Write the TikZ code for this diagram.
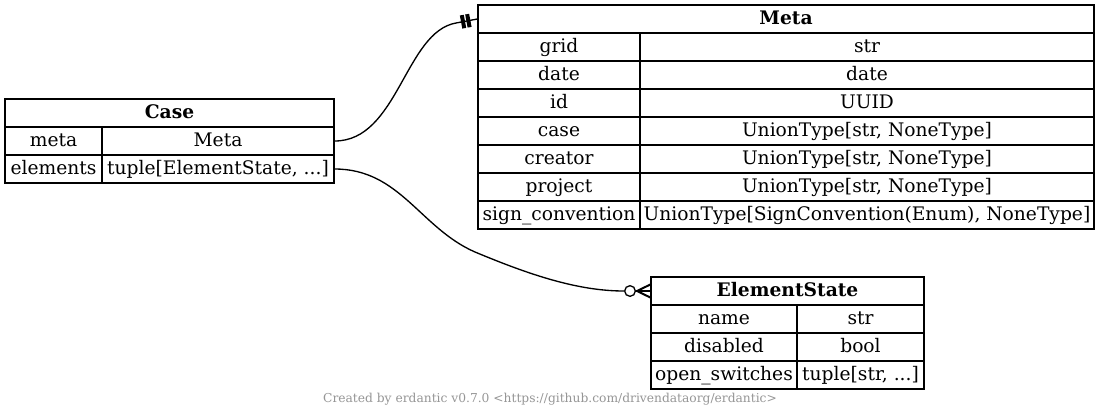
\documentclass[tikz,border=0pt]{standalone}
\usepackage{fontspec}
\setmainfont{DejaVu Serif}
\usetikzlibrary{calc}
\definecolor{footgray}{RGB}{150,150,150}
\newcommand\erdcell[6]{%
  \pgfmathsetmacro\erdcw{(#4-#2)*0.75}%
  \pgfmathsetmacro\erdch{(#5-#3)*0.75}%
  \node[cellbox, minimum width=\erdcw pt, minimum height=\erdch pt] (#1) at ({(#2+#4)/2},{(#3+#5)/2}) {#6};}
\begin{document}
\begin{tikzpicture}[x=0.75pt,y=-0.75pt,
  cellbox/.style={draw, line width=1pt, inner sep=0pt, text height=10.5pt, text depth=3pt, font=\fontsize{14}{16}\selectfont},
  edge/.style={line width=1pt},
  teebar/.style={fill, rectangle, inner sep=0pt, minimum width=3pt, minimum height=10pt},
  odot/.style={draw, circle, line width=1pt, fill=white, inner sep=0pt, minimum size=8pt},
  foot/.style={text=footgray, font=\fontsize{9.2}{11}\selectfont}]
\useasboundingbox[fill=white] (0,0) rectangle (1100,419);
% Case
\erdcell{case-title}{5}{99}{334}{127}{\textbf{Case}}
\erdcell{case-meta-n}{5}{127}{102}{155}{meta}
\erdcell{case-meta-t}{102}{127}{334}{155}{Meta}
\erdcell{case-el-n}{5}{155}{102}{183}{elements}
\erdcell{case-el-t}{102}{155}{334}{183}{tuple[ElementState, ...]}
% Meta
\erdcell{meta-title}{478}{5}{1094}{33}{\textbf{Meta}}
\erdcell{m1n}{478}{33}{640}{61}{grid}
\erdcell{m1t}{640}{33}{1094}{61}{str}
\erdcell{m2n}{478}{61}{640}{89}{date}
\erdcell{m2t}{640}{61}{1094}{89}{date}
\erdcell{m3n}{478}{89}{640}{117}{id}
\erdcell{m3t}{640}{89}{1094}{117}{UUID}
\erdcell{m4n}{478}{117}{640}{145}{case}
\erdcell{m4t}{640}{117}{1094}{145}{UnionType[str, NoneType]}
\erdcell{m5n}{478}{145}{640}{173}{creator}
\erdcell{m5t}{640}{145}{1094}{173}{UnionType[str, NoneType]}
\erdcell{m6n}{478}{173}{640}{201}{project}
\erdcell{m6t}{640}{173}{1094}{201}{UnionType[str, NoneType]}
\erdcell{m7n}{478}{201}{640}{229}{sign\_convention}
\erdcell{m7t}{640}{201}{1094}{229}{UnionType[SignConvention(Enum), NoneType]}
% ElementState
\erdcell{es-title}{651}{277}{924}{305}{\textbf{ElementState}}
\erdcell{e1n}{651}{305}{797}{333}{name}
\erdcell{e1t}{797}{305}{924}{333}{str}
\erdcell{e2n}{651}{333}{797}{361}{disabled}
\erdcell{e2t}{797}{333}{924}{361}{bool}
\erdcell{e3n}{651}{361}{797}{389}{open\_switches}
\erdcell{e3t}{797}{361}{924}{389}{tuple[str, ...]}
% edge Case.meta -> Meta (one)
\draw[edge] (case-meta-t.east) .. controls (398,141) and (405,32) .. (456,23)
  -- node[pos=0.33, sloped, teebar]{} node[pos=0.58, sloped, teebar]{} (meta-title.west);
% edge Case.elements -> ElementState (many, optional)
\node[odot] (dot) at (630,291) {};
\draw[edge] (case-el-t.east) .. controls (400,169) and (420,228) .. (475,252)
  .. controls (530,275) and (578,291) .. (dot.west);
\draw[edge] (dot.east) -- (es-title.west);
\coordinate (crowapex) at (637,291);
\draw[edge, line width=1.5pt] ($(es-title.west)+(0,-6.5)$) -- (crowapex) -- ($(es-title.west)+(0,6.5)$);
% footer
\node[foot] (footer) at (550,399) {Created by erdantic v0.7.0 <https://github.com/drivendataorg/erdantic>};
\end{tikzpicture}
\end{document}
